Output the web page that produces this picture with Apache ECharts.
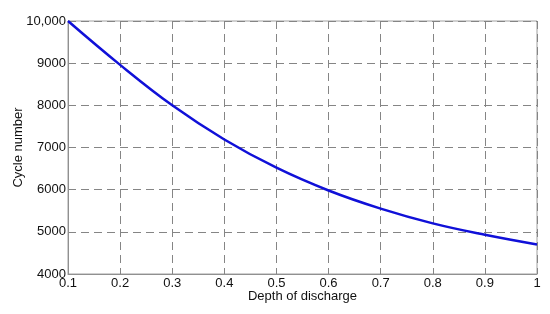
<!DOCTYPE html>
<html lang="en">
<head>
  <meta charset="UTF-8">
  <title>Cycle number vs depth of discharge</title>
  <script src="https://cdn.jsdelivr.net/npm/echarts@6/dist/echarts.min.js"></script>
  <style>
    html, body { margin: 0; padding: 0; background: #fff; }
    #chart { width: 550px; height: 314px; }
  </style>
</head>
<body>
<div id="chart"></div>
<script>
  // depth of discharge vs cycle number
  var depth = [0.1, 0.2, 0.3, 0.4, 0.5, 0.6, 0.7, 0.8, 0.9, 1.0];
  var cycles = [10000, 8960, 8000, 7190, 6520, 5980, 5550, 5200, 4930, 4700];

  var points = depth.map(function (d, i) { return [d, cycles[i]]; });

  var myChart = echarts.init(document.getElementById('chart'));
  var gridColor = '#858585';
  var options = {
    animation: false,
    textStyle: { fontFamily: 'Liberation Sans, Arial, sans-serif' },
    grid: {
      left: 68, right: 13, top: 21, bottom: 40,
      containLabel: false, outerBoundsMode: 'none',
      show: true, borderColor: '#a0a0a0', borderWidth: 1
    },
    xAxis: {
      type: 'value',
      min: 0.1,
      max: 1,
      interval: 0.1,
      name: 'Depth of discharge',
      nameLocation: 'middle',
      nameGap: 16,
      nameMoveOverlap: false,
      nameTextStyle: { fontSize: 13, color: '#111' },
      axisLine: { lineStyle: { color: '#909090' } },
      axisTick: { show: false },
      axisLabel: {
        fontSize: 13, color: '#111', margin: 3,
        formatter: function (v) { return String(Math.round(v * 10) / 10); }
      },
      splitLine: { show: true, lineStyle: { color: gridColor, type: [8, 5], width: 1 } }
    },
    yAxis: {
      type: 'value',
      min: 4000,
      max: 10000,
      interval: 1000,
      name: 'Cycle number',
      nameLocation: 'middle',
      nameGap: 43,
      nameMoveOverlap: false,
      nameTextStyle: { fontSize: 13, color: '#111' },
      axisLine: { show: true, lineStyle: { color: '#909090' } },
      axisTick: { show: false },
      axisLabel: {
        fontSize: 13, color: '#111', margin: 2,
        formatter: function (v) { return v === 10000 ? '10,000' : String(v); }
      },
      splitLine: { show: true, lineStyle: { color: gridColor, type: [8, 5], width: 1 } }
    },
    series: [{
      type: 'line',
      data: points,
      smooth: 0.4,
      showSymbol: false,
      lineStyle: { color: '#1010d8', width: 2.5 }
    }]
  };
  myChart.setOption(options);
</script>
</body>
</html>
